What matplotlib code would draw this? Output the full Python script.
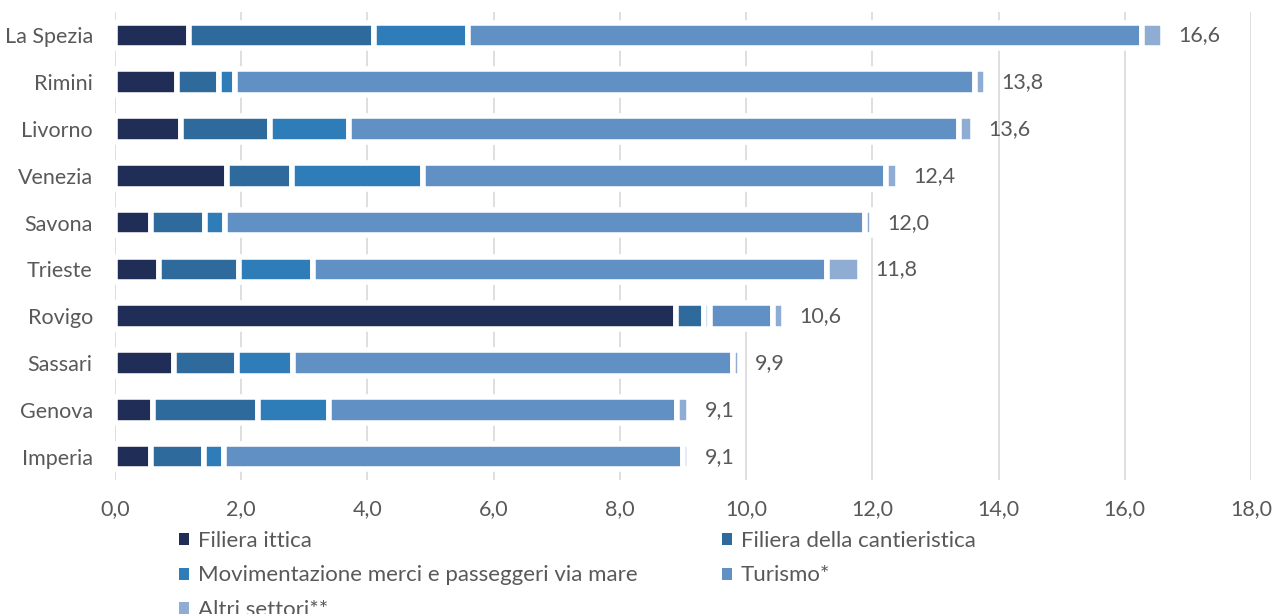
import matplotlib
matplotlib.use("Agg")
import matplotlib.pyplot as plt
from matplotlib.patches import Patch

plt.rcParams['font.family'] = ['Lato', 'DejaVu Sans']

# Province, top to bottom
province = ["La Spezia", "Rimini", "Livorno", "Venezia", "Savona",
            "Trieste", "Rovigo", "Sassari", "Genova", "Imperia"]

# Sector shares (%)
filiera_ittica = [1.18, 0.98, 1.05, 1.77, 0.57, 0.70, 8.89, 0.93, 0.61, 0.57]
cantieristica = [2.93, 0.66, 1.41, 1.03, 0.85, 1.27, 0.44, 1.00, 1.65, 0.84]
movimentazione = [1.49, 0.26, 1.24, 2.08, 0.33, 1.17, 0.10, 0.89, 1.13, 0.32]
turismo = [10.67, 11.73, 9.68, 7.33, 10.13, 8.14, 1.00, 6.98, 5.51, 7.27]
altri = [0.33, 0.17, 0.22, 0.19, 0.12, 0.52, 0.17, 0.10, 0.20, 0.10]

totali = [16.6, 13.8, 13.6, 12.4, 12.0, 11.8, 10.6, 9.9, 9.1, 9.1]

x_ticks = [0, 2, 4, 6, 8, 10, 12, 14, 16, 18]

series = [
    ("Filiera ittica", filiera_ittica, "#1F2D57"),
    ("Filiera della cantieristica", cantieristica, "#2E6A9C"),
    ("Movimentazione merci e passeggeri via mare", movimentazione, "#2E7DB8"),
    ("Turismo*", turismo, "#6190C5"),
    ("Altri settori**", altri, "#8FADD3"),
]

text_col = "#595959"

fig = plt.figure(figsize=(12.82, 6.14), dpi=100)
ax = fig.add_axes([115 / 1282, 1 - 480 / 614, (1251 - 115) / 1282, (480 - 12) / 614])

ypos = list(range(len(province)))
left = [0.0] * len(province)
handles = {}
for name, vals, col in series:
    ax.barh(ypos, vals, left=left, height=0.55, color=col,
            edgecolor="white", linewidth=4.0, zorder=3)
    left = [l + v for l, v in zip(left, vals)]
    handles[name] = Patch(facecolor=col, edgecolor="white", linewidth=0)

for y, tot in zip(ypos, totali):
    ax.annotate(f"{tot:.1f}".replace(".", ","), xy=(tot, y), xytext=(11, 0),
                textcoords="offset points", va="center", ha="left",
                fontsize=15.5, color=text_col)

ax.set_xlim(0, 18)
ax.set_ylim(len(province) - 0.5, -0.5)
ax.set_xticks(x_ticks)
ax.set_xticklabels([f"{t:.1f}".replace(".", ",") for t in x_ticks],
                   fontsize=15.5, color=text_col)
ax.set_yticks(ypos)
ax.set_yticklabels(province, fontsize=15.5, color=text_col)
ax.tick_params(axis="both", length=0)
ax.tick_params(axis="x", pad=14)
ax.tick_params(axis="y", pad=16)
for s in ax.spines.values():
    s.set_visible(False)
ax.grid(axis="x", color="#D9D9D9", linewidth=1.2, zorder=0)
ax.set_axisbelow(True)

order = ["Filiera ittica", "Movimentazione merci e passeggeri via mare",
         "Altri settori**", "Filiera della cantieristica", "Turismo*"]
leg = fig.legend([handles[k] for k in order], order, ncol=2,
                 loc="upper left", bbox_to_anchor=(179 / 1282, 1 - 531 / 614),
                 frameon=False, fontsize=16, handlelength=0.45, handleheight=0.45,
                 handletextpad=0.4, columnspacing=3.8, labelspacing=0.65,
                 borderaxespad=0, borderpad=0)
for t in leg.get_texts():
    t.set_color(text_col)

fig.savefig("out.png", dpi=100)
